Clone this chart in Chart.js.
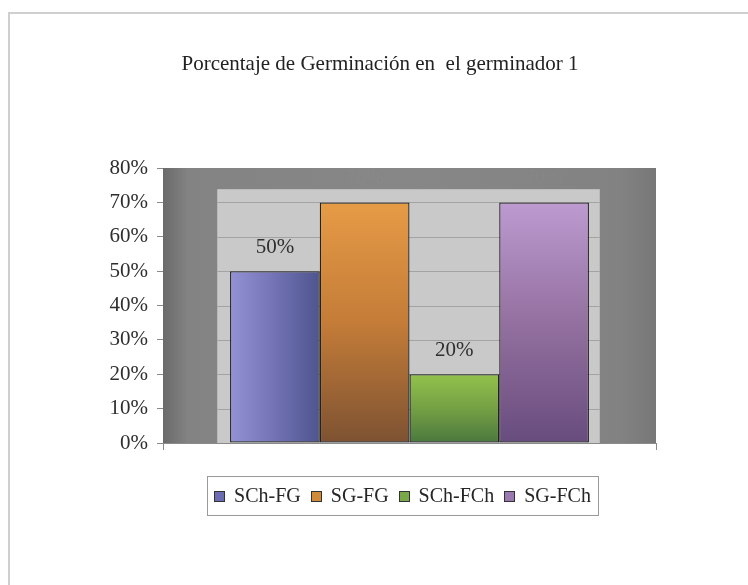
<!DOCTYPE html>
<html>
<head>
<meta charset="utf-8">
<script src="https://cdn.jsdelivr.net/npm/chart.js@4"></script>
<style>
  body { margin: 0; background: #fff; }
  .frame { position: absolute; left: 8px; top: 12px; width: 760px; height: 600px;
           border-top: 2px solid #cfcfcf; border-left: 2px solid #cfcfcf; }
  canvas { position: absolute; left: 0; top: 0; }
</style>
</head>
<body>
<div class="frame"></div>
<canvas id="chart" width="748" height="585"></canvas>
<script>
const titleText = 'Porcentaje de Germinación en  el germinador 1';
const seriesNames = ['SCh-FG', 'SG-FG', 'SCh-FCh', 'SG-FCh'];
const values = [50, 70, 20, 70];
const yTicks = [0, 10, 20, 30, 40, 50, 60, 70, 80];

const serif = '"Liberation Serif", "Times New Roman", serif';
const catPct = 0.728;

// gradient stops per series: [direction, stops]
const fills = [
  ['h', ['#9292d4', '#7272b4', '#4e558e']],
  ['v', ['#e69b46', '#c47c38', '#7d5232']],
  ['v', ['#92c24c', '#74a044', '#4a783e']],
  ['v', ['#bd9bd1', '#93709f', '#684c7e']]
];
const legendColors = ['#6c6cb2', '#d08a3a', '#7aa848', '#9a78b0'];

function barFill(i) {
  return (ctx) => {
    const chart = ctx.chart;
    const xs = chart.scales.x, ys = chart.scales.y;
    if (!xs || !ys || !chart.chartArea) return legendColors[i];
    const c = chart.ctx;
    const center = xs.getPixelForValue(0);
    const total = xs.width * catPct;
    const w = total / seriesNames.length;
    const left = center - total / 2 + i * w;
    let g;
    if (fills[i][0] === 'h') {
      g = c.createLinearGradient(left, 0, left + w, 0);
    } else {
      g = c.createLinearGradient(0, ys.getPixelForValue(values[i]), 0, ys.getPixelForValue(0));
    }
    const s = fills[i][1];
    g.addColorStop(0, s[0]);
    g.addColorStop(0.5, s[1]);
    g.addColorStop(1, s[2]);
    return g;
  };
}

const datasets = seriesNames.map((name, i) => ({
  label: name,
  data: [values[i]],
  backgroundColor: barFill(i),
  borderColor: '#222',
  borderWidth: 1.3,
  borderSkipped: false,
  categoryPercentage: catPct,
  barPercentage: 1
}));

function wallBox(area) {
  return {
    left: area.left + area.width * 0.11,
    right: area.right - area.width * 0.114,
    top: area.top + area.height * 0.077
  };
}

const decor = {
  id: 'decor',
  beforeDatasetsDraw(chart) {
    const { ctx, chartArea: a, scales: { y } } = chart;
    ctx.save();
    const g = ctx.createLinearGradient(a.left, 0, a.right, 0);
    g.addColorStop(0, '#6a6a6a');
    g.addColorStop(0.05, '#838383');
    g.addColorStop(0.5, '#878787');
    g.addColorStop(0.93, '#828282');
    g.addColorStop(1, '#777777');
    ctx.fillStyle = g;
    ctx.fillRect(a.left, a.top, a.width, a.height);
    const w = wallBox(a);
    ctx.fillStyle = '#c9c9c9';
    ctx.fillRect(w.left, w.top, w.right - w.left, a.bottom - w.top);
    ctx.strokeStyle = '#a3a3a3';
    ctx.lineWidth = 1;
    yTicks.forEach(v => {
      const py = Math.round(y.getPixelForValue(v)) + 0.5;
      if (py < w.top || v === 0) return;
      ctx.beginPath();
      ctx.moveTo(w.left, py);
      ctx.lineTo(w.right, py);
      ctx.stroke();
    });
    ctx.restore();
  },
  afterDatasetsDraw(chart) {
    const { ctx, chartArea: a } = chart;
    const w = wallBox(a);
    ctx.save();
    ctx.font = '21px ' + serif;
    ctx.textAlign = 'center';
    ctx.textBaseline = 'middle';
    chart.data.datasets.forEach((ds, i) => {
      const bar = chart.getDatasetMeta(i).data[0];
      const ty = bar.y - 24;
      ctx.fillStyle = ty > w.top ? '#2e2e2e' : 'rgba(255,255,255,0.025)';
      ctx.fillText(ds.data[0] + '%', bar.x, ty);
    });
    ctx.restore();
  },
  afterDraw(chart) {
    const { ctx, chartArea: a } = chart;
    ctx.save();
    // title
    ctx.fillStyle = '#222';
    ctx.font = '21px ' + serif;
    ctx.textAlign = 'center';
    ctx.textBaseline = 'alphabetic';
    ctx.fillText(titleText, 380, 70);
    // legend
    const box = 11, gapText = 9, gapItem = 10, padX = 7;
    ctx.font = '20px ' + serif;
    const widths = seriesNames.map(n => ctx.measureText(n).width);
    let total = 0;
    widths.forEach((tw, i) => { total += box + gapText + tw + (i < widths.length - 1 ? gapItem : 0); });
    const cx = (a.left + a.right) / 2 - 7;
    const cy = 496;
    let x = cx - total / 2;
    ctx.strokeStyle = '#9a9a9a';
    ctx.lineWidth = 1;
    ctx.strokeRect(Math.round(x - padX) + 0.5, cy - 19.5, Math.round(total + padX * 2), 39);
    ctx.textAlign = 'left';
    ctx.textBaseline = 'middle';
    seriesNames.forEach((n, i) => {
      ctx.fillStyle = legendColors[i];
      ctx.fillRect(Math.round(x), cy - 5, box, box);
      ctx.strokeStyle = '#333';
      ctx.strokeRect(Math.round(x) + 0.5, cy - 4.5, box - 1, box - 1);
      ctx.fillStyle = '#262626';
      ctx.fillText(n, x + box + gapText, cy + 1);
      x += box + gapText + widths[i] + gapItem;
    });
    ctx.restore();
  }
};

new Chart(document.getElementById('chart'), {
  type: 'bar',
  data: { labels: [''], datasets },
  options: {
    responsive: false,
    animation: false,
    layout: { padding: { left: 83, right: 92, top: 168, bottom: 0 } },
    plugins: { legend: { display: false }, title: { display: false }, tooltip: { enabled: false } },
    scales: {
      x: {
        grid: { display: true, drawOnChartArea: false, offset: true, tickLength: 7, color: '#8a8a8a' },
        border: { color: '#8a8a8a' },
        ticks: { display: false },
        afterFit: (s) => { s.height = 142; }
      },
      y: {
        min: 0, max: 80,
        grid: { display: true, drawOnChartArea: false, tickLength: 6, color: '#8a8a8a' },
        border: { color: '#8a8a8a' },
        ticks: {
          stepSize: 10, padding: 9, color: '#2e2e2e',
          font: { family: serif, size: 21 },
          callback: (v) => v + '%'
        },
        afterFit: (s) => { s.width = 80; }
      }
    }
  },
  plugins: [decor]
});
</script>
</body>
</html>
